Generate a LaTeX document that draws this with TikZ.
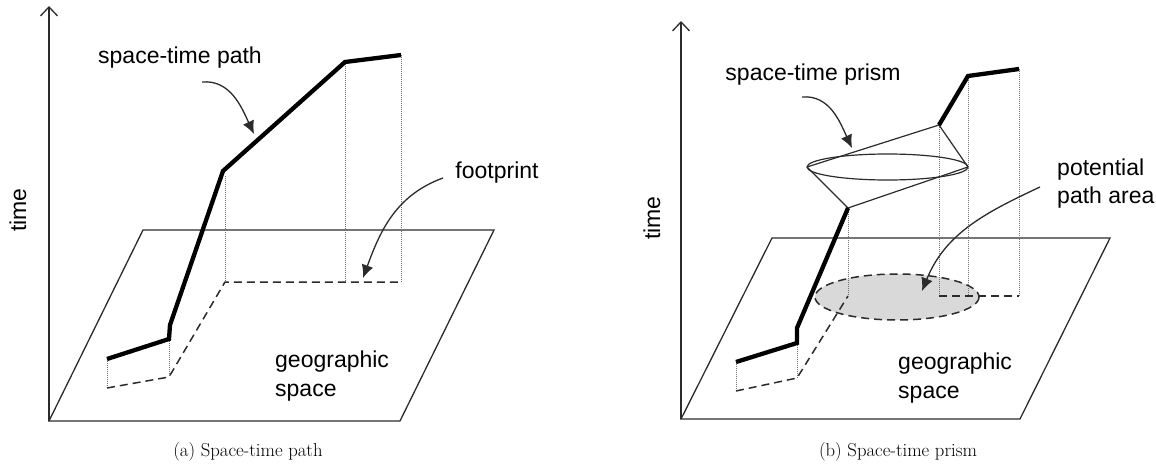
\documentclass[tikz,border=0pt]{standalone}
\usepackage{fontspec}
\newfontfamily\labfont{Liberation Sans}
\usetikzlibrary{arrows.meta}
\definecolor{ln}{HTML}{2B2B2B}
\definecolor{dotc}{HTML}{707070}
\definecolor{areafill}{HTML}{D9D9D9}
\begin{document}
\begin{tikzpicture}[x=1pt,y=-1pt,
  thinline/.style={draw=ln, line width=1.3pt},
  axisline/.style={draw=ln, line width=1.3pt, -{Straight Barb[length=9pt,width=17pt,line width=1.3pt]}},
  pathline/.style={draw=black, line width=4.3pt, line join=miter},
  dotline/.style={draw=dotc, line width=0.9pt, dash pattern=on 1pt off 1pt},
  dashline/.style={draw=ln, line width=1.5pt, dash pattern=on 8pt off 5pt},
  coneline/.style={draw=ln, line width=1.2pt},
  callout/.style={draw=ln, line width=1.3pt, -{Latex[length=13pt,width=12pt]}},
  lab/.style={font=\labfont\fontsize{23}{28.5}\selectfont, text=black, inner sep=0pt},
  captext/.style={font=\fontsize{18.7}{22}\selectfont, inner sep=0pt}
]
\useasboundingbox (0,0) rectangle (1156,468);

% ---------------- (a) space-time path ----------------
\coordinate (a-o) at (49,421);
\coordinate (a-t) at (49,6);
\coordinate (a-br) at (400,421);
\coordinate (a-tr) at (494,230);
\coordinate (a-tl) at (143,230);
\draw[thinline] (a-o) -- (a-br) -- (a-tr) -- (a-tl) -- cycle;
\draw[axisline] (a-o) -- (a-t);

\coordinate (a-p1) at (107,359);
\coordinate (a-p2) at (169,339);
\coordinate (a-p3) at (170,325);
\coordinate (a-p4) at (223,171);
\coordinate (a-p5) at (345,62);
\coordinate (a-p6) at (401,55);
\coordinate (a-f1) at (107,388);
\coordinate (a-f2) at (169,377);
\coordinate (a-f4) at (225,282);
\coordinate (a-f5) at (345,282);
\coordinate (a-f6) at (401,282);
\coordinate (a-p4b) at (225,176);

\draw[dotline] (a-p1) -- (a-f1);
\draw[dotline] (a-p2) -- (a-f2);
\draw[dotline] (a-p4b) -- (a-f4);
\draw[dotline] (a-p5) -- (a-f5);
\draw[dotline] (a-p6) -- (a-f6);
\draw[dashline] (a-f1) -- (a-f2) -- (a-f4) -- (a-f6);
\draw[pathline] (a-p1) -- (a-p2) -- (a-p3) -- (a-p4) -- (a-p5) -- (a-p6);

\node[lab] (a-stp) at (180,58) {space-time path};
\node[lab] (a-fp) at (497,173) {footprint};
\node[lab, align=left, anchor=west] (a-geo) at (275,376) {geographic\\space};
\node[lab, rotate=90] (a-time) at (18,210) {time};

\coordinate (a-c1s) at (202,82);
\coordinate (a-c1e) at (254,134);
\draw[callout] (a-c1s) to[out=5,in=115] (a-c1e);
\coordinate (a-c2s) at (443,178);
\coordinate (a-c2e) at (363,278);
\draw[callout] (a-c2s) to[out=200,in=70] (a-c2e);

\node[captext] (a-cap) at (248,452) {(a) Space-time path};

% ---------------- (b) space-time prism ----------------
\coordinate (b-o) at (681,419);
\coordinate (b-t) at (681,21);
\coordinate (b-br) at (1020,419);
\coordinate (b-tr) at (1110,238);
\coordinate (b-tl) at (772,238);
\draw[thinline] (b-o) -- (b-br) -- (b-tr) -- (b-tl) -- cycle;
\draw[axisline] (b-o) -- (b-t);

\coordinate (b-area) at (897,297);
\draw[dashline, fill=areafill] (b-area) ellipse [x radius=82, y radius=23];

\coordinate (b-p1) at (736,362);
\coordinate (b-p2) at (797,343);
\coordinate (b-p3) at (797,328);
\coordinate (b-lo) at (848,208);
\coordinate (b-up) at (939,125);
\coordinate (b-p5) at (968,76);
\coordinate (b-p6) at (1019,69);
\coordinate (b-f1) at (736,391);
\coordinate (b-f2) at (797,378);
\coordinate (b-flo) at (848,296);
\coordinate (b-fup) at (939,296);
\coordinate (b-f5) at (968,296);
\coordinate (b-f6) at (1019,296);

\draw[dotline] (b-p1) -- (b-f1);
\draw[dotline] (b-p2) -- (b-f2);
\draw[dotline] (b-lo) -- (b-flo);
\draw[dotline] (b-up) -- (b-fup);
\draw[dotline] (b-p5) -- (b-f5);
\draw[dotline] (b-p6) -- (b-f6);
\draw[dashline] (b-f1) -- (b-f2) -- (b-flo);
\draw[dashline, dash phase=0pt] (b-fup) -- (b-f6);

\coordinate (b-ell) at (887.5,167);
\coordinate (b-el) at (807,167);
\coordinate (b-er) at (968,167);
\draw[coneline] (b-ell) ellipse [x radius=80.5, y radius=13];
\draw[coneline] (b-lo) -- (b-el);
\draw[coneline] (b-lo) -- (b-er);
\draw[coneline] (b-up) -- (b-el);
\draw[coneline] (b-up) -- (b-er);

\draw[pathline] (b-p1) -- (b-p2) -- (b-p3) -- (b-lo);
\draw[pathline] (b-up) -- (b-p5) -- (b-p6);

\node[lab] (b-stp) at (813,75) {space-time prism};
\node[lab, align=left, anchor=west] (b-ppa) at (1057,183.5) {potential\\path area};
\node[lab, align=left, anchor=west] (b-geo) at (898,378) {geographic\\space};
\node[lab, rotate=90] (b-time) at (652,218) {time};

\coordinate (b-c1s) at (802,97);
\coordinate (b-c1e) at (852,148);
\draw[callout] (b-c1s) to[out=5,in=115] (b-c1e);
\coordinate (b-c2s) at (1040,187);
\coordinate (b-c2e) at (922,291);
\draw[callout] (b-c2s) to[out=205,in=68] (b-c2e);

\node[captext] (b-cap) at (898,452) {(b) Space-time prism};
\end{tikzpicture}
\end{document}
